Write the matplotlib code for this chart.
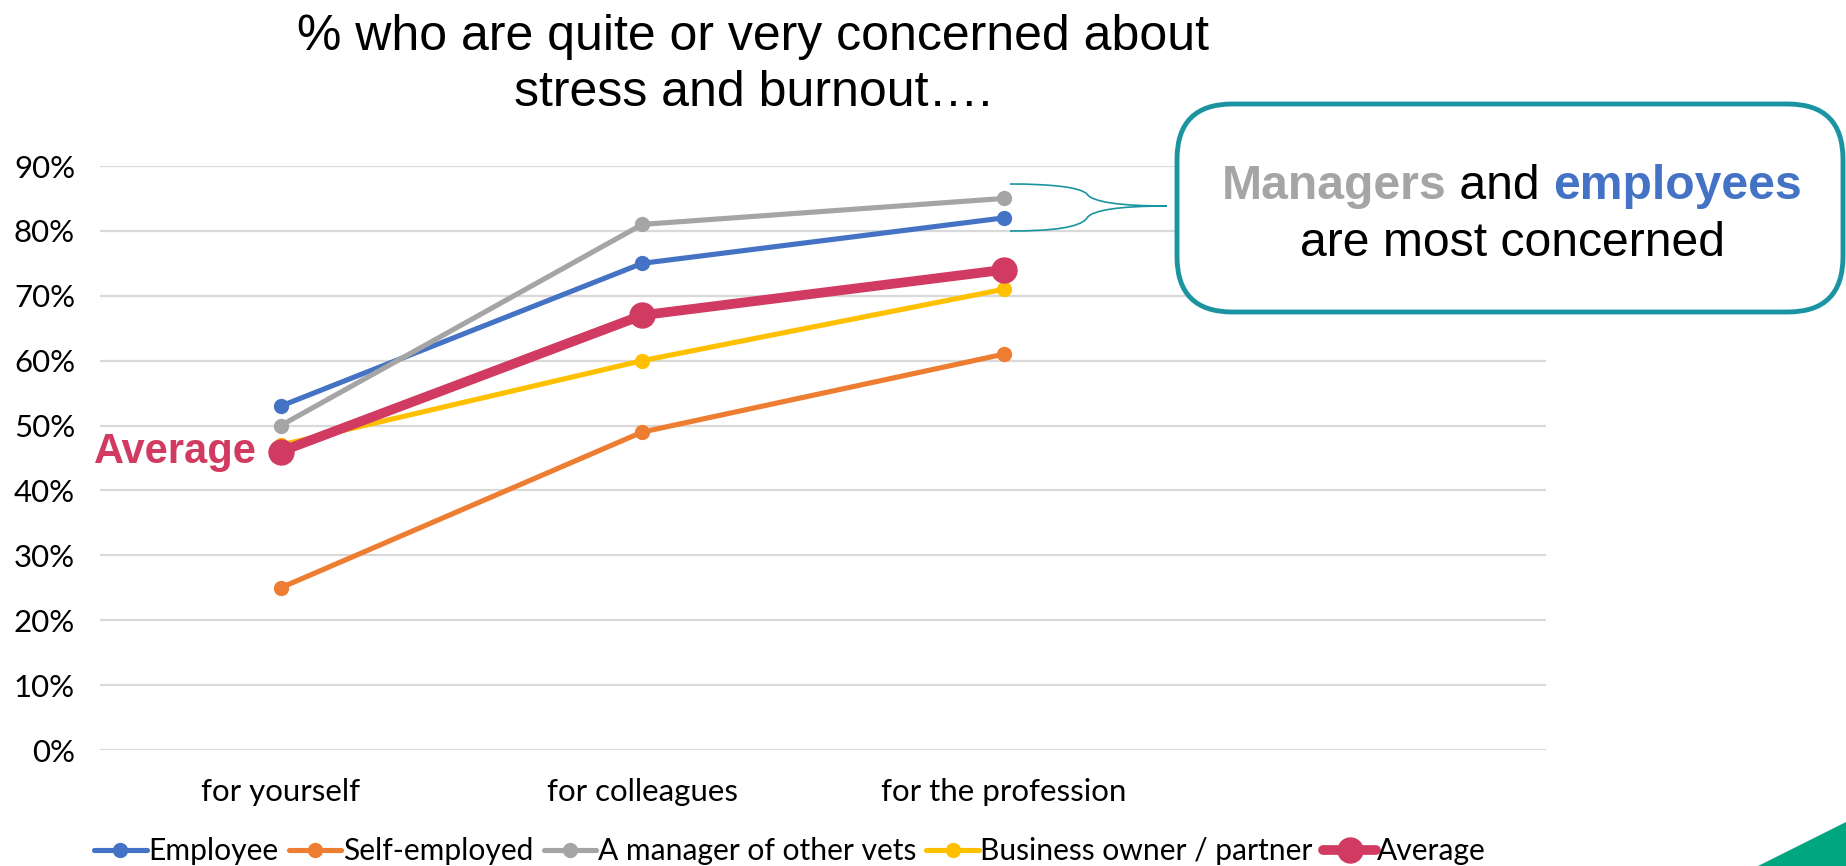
import matplotlib
matplotlib.use("Agg")
import matplotlib.pyplot as plt
from matplotlib.patches import FancyBboxPatch, PathPatch, Polygon
from matplotlib.path import Path
from matplotlib.ticker import PercentFormatter

categories = ["for yourself", "for colleagues", "for the profession"]
employee = [53, 75, 82]
self_employed = [25, 49, 61]
manager = [50, 81, 85]
business_owner = [47, 60, 71]
average = [46, 67, 74]
series_names = ["Employee", "Self-employed", "A manager of other vets",
                "Business owner / partner", "Average"]
y_ticks = [0, 10, 20, 30, 40, 50, 60, 70, 80, 90]
title_lines = ["% who are quite or very concerned about",
               "stress and burnout\u2026."]

colors = ["#4472C4", "#ED7D31", "#A5A5A5", "#FFC000", "#D13B62"]
TEAL = "#1A94A0"

W, H = 1846, 866
fig = plt.figure(figsize=(W / 100, H / 100), dpi=100)
ax = fig.add_axes([100 / W, 1 - 750 / H, 1446 / W, (750 - 166) / H])

x = list(range(len(categories)))
all_series = [employee, self_employed, manager, business_owner]
for s, c, n in zip(all_series, colors[:4], series_names[:4]):
    ax.plot(x, s, color=c, lw=3.7, marker="o", ms=10, label=n, zorder=3,
            solid_capstyle="round")
ax.plot(x, average, color=colors[4], lw=7, marker="o", ms=18,
        label=series_names[4], zorder=4, solid_capstyle="round")

ax.set_xlim(-0.5, 3.5)
ax.set_ylim(0, 90)
ax.set_yticks(y_ticks)
ax.yaxis.set_major_formatter(PercentFormatter(decimals=0))
ax.set_xticks(x)
ax.set_xticklabels(categories)
ax.grid(axis="y", color="#D9D9D9", lw=1.6)
ax.set_axisbelow(True)
for sp in ax.spines.values():
    sp.set_visible(False)
ax.tick_params(length=0, labelsize=22.5)
ax.tick_params(axis="x", pad=20)
ax.tick_params(axis="y", pad=18)
for lab in ax.get_xticklabels() + ax.get_yticklabels():
    lab.set_fontfamily("Lato")

# Average label
ax.text(-0.065, average[0], "Average", ha="right", va="center",
        fontsize=30, fontweight="bold", color=colors[4],
        family="Liberation Sans")

# Title (two lines, baseline positioned)
for line, yb in zip(title_lines, [49.5, 106]):
    fig.text(753 / W, 1 - yb / H, line, ha="center", va="baseline",
             fontsize=36, family="Liberation Sans")

# Legend
leg = fig.legend(loc="lower left", bbox_to_anchor=(82 / W, -0.013), ncol=5,
                 frameon=False, prop={"family": "Lato", "size": 21.6},
                 handlelength=1.75, handletextpad=0.05, columnspacing=0.35,
                 borderaxespad=0.0)

# Callout box
bx0, by0, bx1, by1 = 1177, 104, 1843, 312
box = FancyBboxPatch((bx0 / W, 1 - by1 / H), (bx1 - bx0) / W, (by1 - by0) / H,
                     boxstyle="round,pad=0,rounding_size=0.03",
                     transform=fig.transFigure, fc="white", ec=TEAL, lw=3.5,
                     mutation_aspect=W / H)
fig.add_artist(box)

cx = 1512 / W
fs = 34.7
parts = [("Managers", "#A5A5A5", "bold"), (" and ", "black", "normal"),
         ("employees", "#4472C4", "bold")]
renderer = fig.canvas.get_renderer()
texts = []
widths = []
for s, c, wgt in parts:
    t = fig.text(0, 1 - 181.5 / H, s, fontsize=fs, color=c, fontweight=wgt,
                 family="Liberation Sans", va="center_baseline", ha="left")
    texts.append(t)
    widths.append(t.get_window_extent(renderer).width)
total = sum(widths)
xpos = cx * W - total / 2
for t, w in zip(texts, widths):
    t.set_x(xpos / W)
    xpos += w
fig.text(cx, 1 - 238.5 / H, "are most concerned", fontsize=fs, color="black",
         family="Liberation Sans", ha="center", va="center_baseline")

# Brace
def fp(px, py):
    return (px / W, 1 - py / H)

verts = [fp(1010, 184), fp(1050, 184), fp(1080, 187), fp(1087, 194),
         fp(1092, 202), fp(1120, 206), fp(1167, 206),
         fp(1167, 206), fp(1120, 206), fp(1092, 210), fp(1087, 218),
         fp(1080, 228), fp(1050, 231), fp(1010, 231)]
codes = [Path.MOVETO, Path.CURVE4, Path.CURVE4, Path.CURVE4,
         Path.CURVE4, Path.CURVE4, Path.CURVE4,
         Path.MOVETO, Path.CURVE4, Path.CURVE4, Path.CURVE4,
         Path.CURVE4, Path.CURVE4, Path.CURVE4]
brace = PathPatch(Path(verts, codes), transform=fig.transFigure, fc="none",
                  ec=TEAL, lw=1.2)
fig.add_artist(brace)

# Green triangle corner
tri = Polygon([fp(1758, 866), fp(1846, 822), fp(1846, 866)],
              closed=True, transform=fig.transFigure, fc="#00A67E", ec="none")
fig.add_artist(tri)

fig.savefig("out.png", dpi=100)
